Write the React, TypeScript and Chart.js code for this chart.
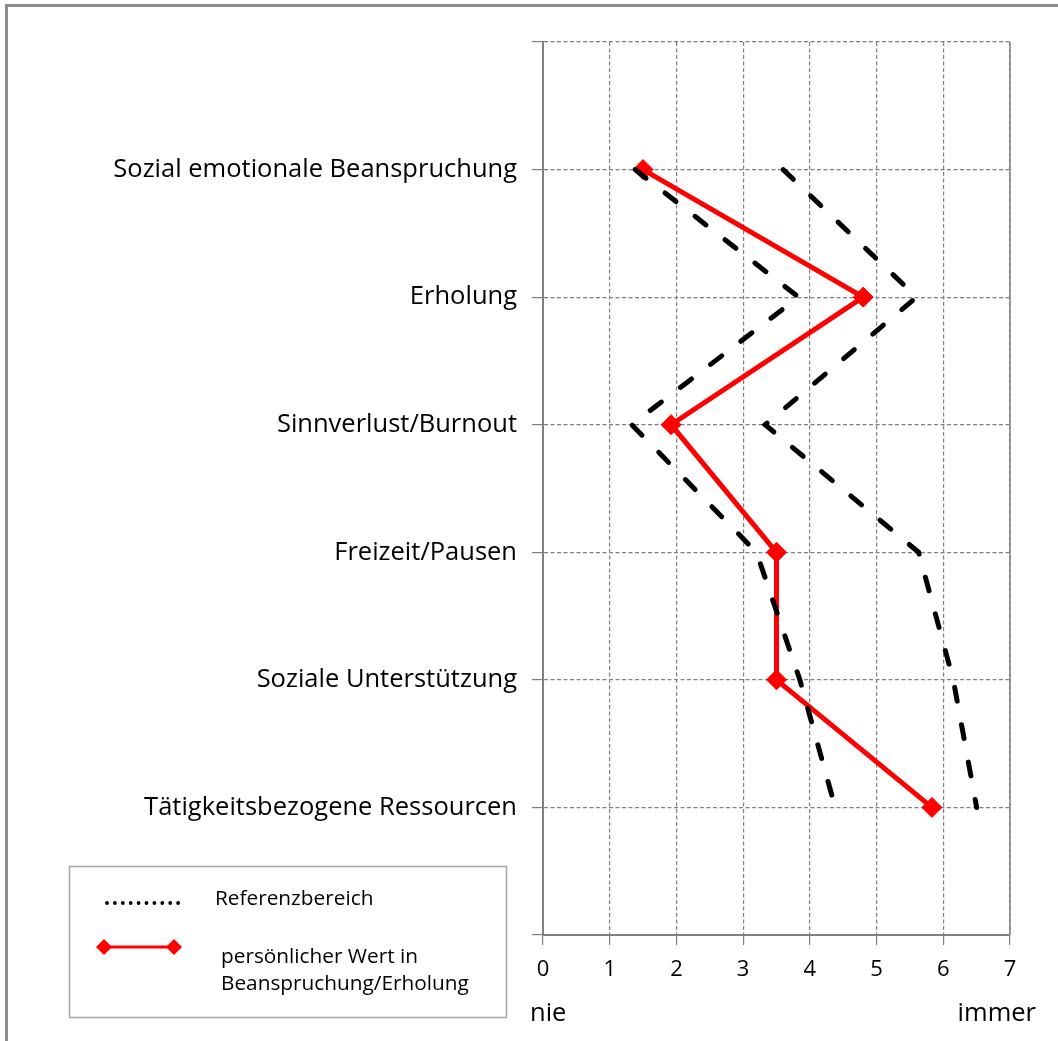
import React, { useEffect, useRef } from 'react';
import { Chart, registerables } from 'chart.js';

Chart.register(...registerables);

const categories = [
  'Sozial emotionale Beanspruchung',
  'Erholung',
  'Sinnverlust/Burnout',
  'Freizeit/Pausen',
  'Soziale Unterstützung',
  'Tätigkeitsbezogene Ressourcen',
];
const personalValues = [1.5, 4.8, 1.92, 3.5, 3.5, 5.83];
const referenceLower = [1.38, 3.83, 1.33, 3.2, 3.85, 4.38];
const referenceUpper = [3.6, 5.6, 3.33, 5.63, 6.15, 6.5];
const xMin = 0;
const xMax = 7;
const xEndLabels = ['nie', 'immer'];
const legendReference = 'Referenzbereich';
const legendPersonal = ['persönlicher Wert in', 'Beanspruchung/Erholung'];

const FONT = '"Open Sans", Lato, sans-serif';
const GRID = '#808080';

const toPoints = (vals: number[]) => vals.map((v, i) => ({ x: v, y: i + 1 }));

const decorPlugin = {
  id: 'decor',
  beforeDraw(chart: any) {
    const ctx = chart.ctx;
    ctx.save();
    ctx.fillStyle = '#ffffff';
    ctx.fillRect(0, 0, chart.width, chart.height);
    ctx.fillStyle = '#8c8c8c';
    ctx.fillRect(5, 4, 3, chart.height);
    ctx.fillRect(5, 4, chart.width, 3);
    ctx.restore();
  },
  afterDraw(chart: any) {
    const ctx = chart.ctx;
    const xs = chart.scales.x;
    ctx.save();
    // right edge solid
    ctx.strokeStyle = GRID;
    ctx.lineWidth = 1.5;
    ctx.beginPath();
    ctx.moveTo(chart.chartArea.right, chart.chartArea.top);
    ctx.lineTo(chart.chartArea.right, chart.chartArea.bottom);
    ctx.stroke();
    // end labels
    ctx.fillStyle = '#000';
    ctx.font = `25.5px ${FONT}`;
    ctx.textBaseline = 'alphabetic';
    ctx.textAlign = 'left';
    ctx.fillText(xEndLabels[0], xs.getPixelForValue(xMin) - 13, 1021);
    ctx.textAlign = 'right';
    ctx.fillText(xEndLabels[1], xs.getPixelForValue(xMax) + 26, 1021);

    // legend box
    ctx.strokeStyle = '#a6a6a6';
    ctx.lineWidth = 1.5;
    ctx.strokeRect(69.5, 866.5, 437, 151);
    // dotted line
    ctx.fillStyle = '#000';
    for (let i = 0; i < 10; i++) {
      ctx.beginPath();
      ctx.arc(107 + i * 7.9, 903, 1.9, 0, Math.PI * 2);
      ctx.fill();
    }
    // red line with diamonds
    ctx.strokeStyle = '#ff0000';
    ctx.lineWidth = 3;
    ctx.beginPath();
    ctx.moveTo(103, 947);
    ctx.lineTo(174, 947);
    ctx.stroke();
    ctx.fillStyle = '#ff0000';
    [104, 174].forEach((cx) => {
      ctx.beginPath();
      ctx.moveTo(cx - 8, 947);
      ctx.lineTo(cx, 939);
      ctx.lineTo(cx + 8, 947);
      ctx.lineTo(cx, 955);
      ctx.closePath();
      ctx.fill();
    });
    ctx.fillStyle = '#000';
    ctx.font = `20.8px ${FONT}`;
    ctx.textAlign = 'left';
    ctx.fillText(legendReference, 215, 905);
    ctx.fillText(legendPersonal[0], 221, 963);
    ctx.fillText(legendPersonal[1], 221, 990);
    ctx.restore();
  },
};

export default function App() {
  const ref = useRef<HTMLCanvasElement>(null);
  useEffect(() => {
    document.body.style.margin = '0';
    const canvas = ref.current!;
    const chart = new Chart(canvas, {
      type: 'line',
      data: {
        datasets: [
          {
            label: 'Referenzbereich unten',
            data: toPoints(referenceLower),
            borderColor: '#000',
            borderWidth: 5,
            borderDash: [14, 24],
            borderCapStyle: 'round',
            pointRadius: 0,
            fill: false,
          },
          {
            label: 'Referenzbereich oben',
            data: toPoints(referenceUpper),
            borderColor: '#000',
            borderWidth: 5,
            borderDash: [14, 24],
            borderCapStyle: 'round',
            pointRadius: 0,
            fill: false,
          },
          {
            label: 'persönlicher Wert',
            data: toPoints(personalValues),
            borderColor: '#ff0000',
            backgroundColor: '#ff0000',
            borderWidth: 5,
            pointStyle: 'rectRot',
            pointRadius: 10,
            pointBorderWidth: 1,
            fill: false,
          },
        ],
      },
      options: {
        animation: false,
        responsive: false,
        devicePixelRatio: 1,
        layout: { padding: { top: 42, right: 48, left: 0, bottom: 0 } },
        plugins: { legend: { display: false }, tooltip: { enabled: false } },
        scales: {
          x: {
            type: 'linear',
            min: xMin,
            max: xMax,
            ticks: {
              stepSize: 1,
              color: '#000',
              font: { family: FONT, size: 22 },
              padding: 12,
            },
            grid: { color: GRID, lineWidth: 1.2, tickLength: 10, tickColor: GRID },
            border: { color: GRID, width: 2, dash: [4, 2.5] },
            afterFit: (s: any) => {
              s.height = 106;
            },
          },
          y: {
            type: 'linear',
            min: 0,
            max: categories.length + 1,
            reverse: true,
            ticks: {
              stepSize: 1,
              color: '#000',
              font: { family: FONT, size: 25.5 },
              padding: 15,
              callback: (v: any) => (v >= 1 && v <= categories.length ? categories[v - 1] : ''),
            },
            grid: { color: GRID, lineWidth: 1.2, tickLength: 11, tickColor: GRID },
            border: { color: GRID, width: 2, dash: [4, 2.5] },
            afterFit: (s: any) => {
              s.width = 543;
            },
          },
        },
      },
      plugins: [decorPlugin],
    } as any);
    return () => chart.destroy();
  }, []);
  return <canvas ref={ref} width={1058} height={1041} style={{ display: 'block' }} />;
}
